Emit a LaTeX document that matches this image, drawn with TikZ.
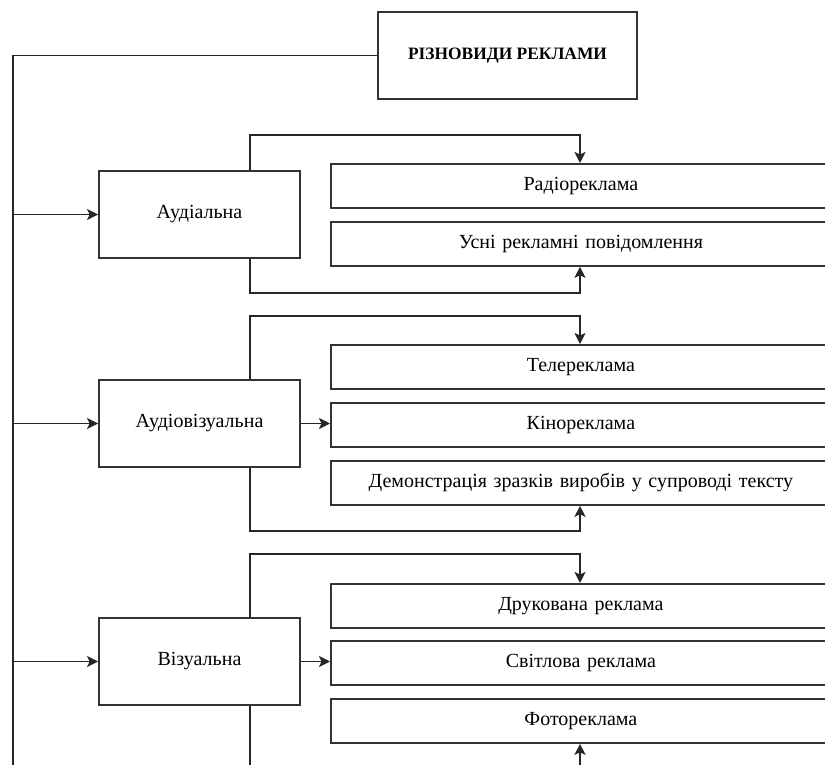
\documentclass[tikz,border=0pt]{standalone}
\usepackage{fontspec}
\setmainfont{Liberation Serif}
\usetikzlibrary{arrows.meta}
\begin{document}
\begin{tikzpicture}[x=1pt,y=-1pt,
  box/.style={draw=black!80,line width=1.8pt,fill=white,inner sep=0pt,font=\fontsize{20}{24}\selectfont},
  cat/.style={box,minimum width=201pt,minimum height=87pt},
  item/.style={box,anchor=north west,minimum width=500pt,minimum height=44pt,text width=500pt,align=center},
  conn/.style={line width=1.8pt,draw=black!85},
  arr/.style={conn,-{Stealth[length=11pt,width=11pt,inset=2.5pt]}}]
\useasboundingbox (0,0) rectangle (825,765);
\clip (0,0) rectangle (825,765);
\node[box,minimum width=259pt,minimum height=87pt,font=\fontsize{17.4}{20}\selectfont\bfseries] (root) at (507.5,55.5) {РІЗНОВИДИ РЕКЛАМИ};
\node[cat] (a) at (199.5,214.5) {Аудіальна};
\node[cat] (av) at (199.5,423.5) {Аудіовізуальна};
\node[cat] (v) at (199.5,661.5) {Візуальна};
\node[item] (a1) at (330,163) {Радіореклама};
\node[item] (a2) at (330,221) {Усні рекламні повідомлення};
\node[item] (av1) at (330,344) {Телереклама};
\node[item] (av2) at (330,402) {Кінореклама};
\node[item] (av3) at (330,460) {Демонстрація зразків виробів у супроводі тексту};
\node[item] (v1) at (330,583) {Друкована реклама};
\node[item] (v2) at (330,640) {Світлова реклама};
\node[item] (v3) at (330,698) {Фотореклама};
\coordinate (trunkbot) at (13,770);
\coordinate (vbot) at (250,770);
\coordinate (v3bot) at (580,770);
% trunk
\draw[conn] (root.west) -| (trunkbot);
\draw[arr] (13,214.5) -- (a.west);
\draw[arr] (13,423.5) -- (av.west);
\draw[arr] (13,661.5) -- (v.west);
% audial
\draw[arr] (a.north -| 250,0) |- (0,135 -| 580,0) -- (a1.north -| 580,0);
\draw[arr] (a.south -| 250,0) |- (0,293 -| 580,0) -- (a2.south -| 580,0);
% audiovisual
\draw[arr] (av.north -| 250,0) |- (0,316 -| 580,0) -- (av1.north -| 580,0);
\draw[arr] (av.east) -- (av.east -| av2.west);
\draw[arr] (av.south -| 250,0) |- (0,531 -| 580,0) -- (av3.south -| 580,0);
% visual
\draw[arr] (v.north -| 250,0) |- (0,554 -| 580,0) -- (v1.north -| 580,0);
\draw[arr] (v.east) -- (v.east -| v2.west);
\draw[conn] (v.south -| 250,0) -- (vbot);
\draw[arr] (v3bot) -- (v3.south -| 580,0);
\end{tikzpicture}
\end{document}
